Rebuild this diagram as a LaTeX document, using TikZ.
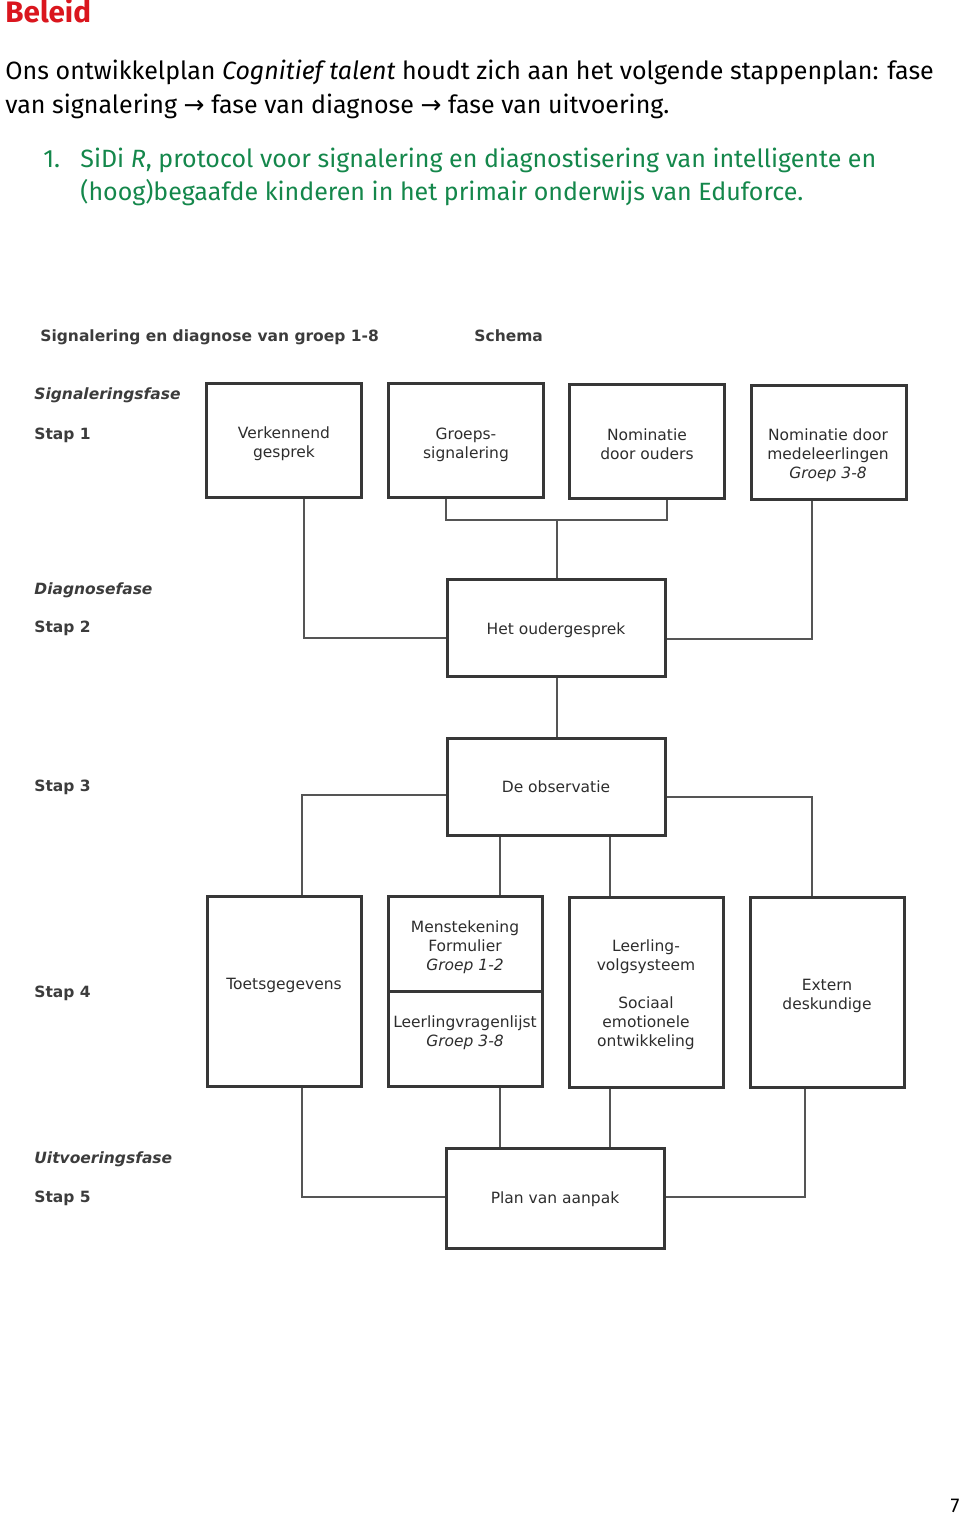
\documentclass[tikz,border=0pt]{standalone}
\usepackage{fontspec}
\setmainfont{Fira Sans}
\newfontfamily\dia{DejaVu Sans}
\newfontfamily\arrowf{DejaVu Sans}
\definecolor{titlered}{RGB}{218,22,30}
\definecolor{itemgreen}{RGB}{20,135,75}
\definecolor{boxc}{RGB}{55,55,55}
\definecolor{linec}{RGB}{85,85,85}
\definecolor{txtc}{RGB}{45,45,45}
\definecolor{hdrc}{RGB}{60,60,60}
\tikzset{
  bodytext/.style={anchor=base west, inner sep=0pt, font=\fontsize{12.5pt}{15pt}\selectfont},
  boxsmall/.style={draw=boxc, line width=1.5pt, inner sep=0pt, minimum width=77.5pt, minimum height=57pt},
  boxmid/.style={draw=boxc, line width=1.5pt, inner sep=0pt, minimum width=109pt, minimum height=48.5pt},
  boxtall/.style={draw=boxc, line width=1.5pt, inner sep=0pt, minimum width=77pt, minimum height=95pt},
  btxt/.style={inner sep=0pt, align=center, text=txtc, font=\dia\fontsize{7.75pt}{9.5pt}\selectfont},
  lbl/.style={anchor=base west, inner sep=0pt, text=hdrc, font=\dia\bfseries\fontsize{7.75pt}{9.5pt}\selectfont},
  lbli/.style={lbl, font=\dia\bfseries\itshape\fontsize{7.75pt}{9.5pt}\selectfont},
  conn/.style={draw=linec, line width=1pt},
}
\begin{document}
\begin{tikzpicture}[x=0.5pt,y=-0.5pt]
\useasboundingbox (0,0) rectangle (960,1515);
% page text
\node[bodytext, text=titlered, font=\bfseries\fontsize{14.8pt}{16pt}\selectfont] (title) at (5,23) {Beleid};
\node[bodytext] (l1) at (5,79) {Ons ontwikkelplan \textit{Cognitief talent} houdt zich aan het volgende stappenplan: fase};
\node[bodytext] (l2) at (5,113) {van signalering {\arrowf →} fase van diagnose {\arrowf →} fase van uitvoering.};
\node[bodytext, text=itemgreen] (g0) at (43,167) {1.};
\node[bodytext, text=itemgreen] (g1) at (80,167) {SiDi \textit{R}, protocol voor signalering en diagnostisering van intelligente en};
\node[bodytext, text=itemgreen] (g2) at (80,200) {(hoog)begaafde kinderen in het primair onderwijs van Eduforce.};
\node[anchor=base, inner sep=0pt, font=\fontsize{10pt}{12pt}\selectfont] (pg) at (955,1512) {7};
% diagram headers
\node[lbl] (hd1) at (40,341) {Signalering en diagnose van groep 1-8};
\node[lbl] (hd2) at (474,341) {Schema};
\node[lbli] (ph1) at (34,399.5) {Signaleringsfase};
\node[lbl] (st1) at (34,439) {Stap 1};
\node[lbli] (ph2) at (34,594.5) {Diagnosefase};
\node[lbl] (st2) at (34,632.5) {Stap 2};
\node[lbl] (st3) at (34,791.5) {Stap 3};
\node[lbl] (st4) at (34,997.5) {Stap 4};
\node[lbli] (ph3) at (34,1163.5) {Uitvoeringsfase};
\node[lbl] (st5) at (34,1202.5) {Stap 5};
% boxes
\node[boxsmall] (b1) at (284,440.5) {};
\node[boxsmall] (b2) at (466,440.5) {};
\node[boxsmall] (b3) at (647,441.5) {};
\node[boxsmall] (b4) at (828.5,442.5) {};
\node[boxmid] (oud) at (556.5,628) {};
\node[boxmid] (obs) at (556.5,787) {};
\node[boxtall] (toets) at (284,991) {};
\node[boxtall] (men) at (465.5,991.5) {};
\node[boxtall] (lv) at (646.5,992) {};
\node[boxtall] (ext) at (827.5,992.5) {};
\node[boxmid, minimum height=50pt] (plan) at (555,1198.5) {};
\draw[draw=boxc, line width=1.5pt] (men.west) -- (men.east);
% box texts
\node[btxt] (t1) at (284,444) {Verkennend\\gesprek};
\node[btxt] (t2) at (466,445) {Groeps-\\signalering};
\node[btxt] (t3) at (647,444) {Nominatie\\door ouders};
\node[btxt] (t4) at (828,455) {Nominatie door\\medeleerlingen\\\textit{Groep 3-8}};
\node[btxt] (t5) at (556,630) {Het oudergesprek};
\node[btxt] (t6) at (556,787) {De observatie};
\node[btxt] (t7) at (284,985) {Toetsgegevens};
\node[btxt] (t8) at (465,947) {Menstekening\\Formulier\\\textit{Groep 1-2}};
\node[btxt] (t9) at (465,1033) {Leerlingvragenlijst\\\textit{Groep 3-8}};
\node[btxt] (t10) at (646,994.5) {Leerling-\\volgsysteem\\[9.5pt]Sociaal\\emotionele\\ontwikkeling};
\node[btxt] (t11) at (827,995.5) {Extern\\deskundige};
\node[btxt] (t12) at (555,1199) {Plan van aanpak};
% connectors stage 1 -> 2
\coordinate (j1) at (556.5,520);
\draw[conn] ([xshift=10pt]b1.south) |- ([yshift=-5pt]oud.west);
\draw[conn] ([xshift=-10pt]b2.south) |- (j1) -| ([xshift=10pt]b3.south);
\draw[conn] (j1) -- (oud.north);
\draw[conn] ([xshift=-8.25pt]b4.south) |- ([yshift=-5.5pt]oud.east);
% 2 -> 3
\draw[conn] (oud.south) -- (obs.north);
% 3 -> 4
\draw[conn] ([yshift=-4pt]obs.west) -| ([xshift=9pt]toets.north);
\draw[conn] ([xshift=-28.25pt]obs.south) -- ([xshift=17.25pt]men.north);
\draw[conn] ([xshift=26.75pt]obs.south) -- ([xshift=-18.25pt]lv.north);
\draw[conn] ([yshift=-5pt]obs.east) -| ([xshift=-7.75pt]ext.north);
% 4 -> 5
\draw[conn] ([xshift=9pt]toets.south) |- ([yshift=1pt]plan.west);
\draw[conn] ([xshift=17.25pt]men.south) -- ([xshift=-27.5pt]plan.north);
\draw[conn] ([xshift=-18.25pt]lv.south) -- ([xshift=27.5pt]plan.north);
\draw[conn] ([xshift=-11.25pt]ext.south) |- ([yshift=0.75pt]plan.east);
\end{tikzpicture}
\end{document}
